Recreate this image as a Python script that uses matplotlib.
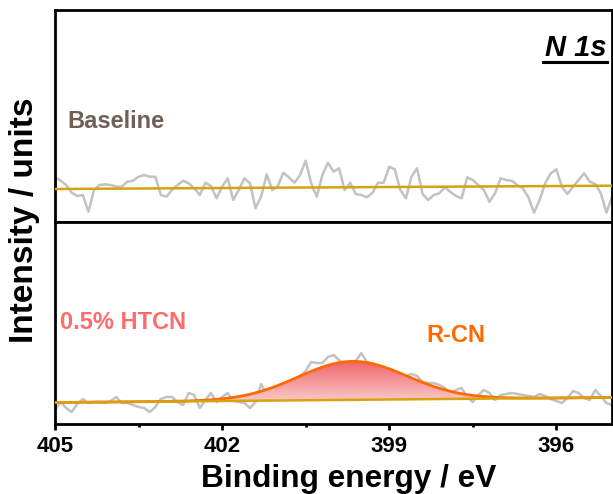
import numpy as np
import matplotlib
matplotlib.use("Agg")
import matplotlib.pyplot as plt
from matplotlib.colors import LinearSegmentedColormap
from matplotlib.ticker import FixedLocator
from matplotlib.lines import Line2D

plt.rcParams['font.family'] = ['Liberation Sans', 'DejaVu Sans']
plt.rcParams['font.weight'] = 'bold'

# ---------------- data ----------------
# binding energy grid, 0.1 eV step from 405 to 395 eV
energy = np.round(np.arange(405.0, 394.95, -0.1), 1)

# Baseline sample, raw N 1s counts (arb. units)
baseline_raw = [
    44.7, 41.3, 37.0, 29.3, 26.0, 27.0, 10.3, 32.0, 37.0, 37.7,
    37.0, 35.3, 35.3, 40.3, 41.3, 45.3, 47.0, 45.3, 45.3, 27.0,
    25.3, 32.0, 37.0, 41.3, 38.7, 33.7, 27.0, 39.3, 36.0, 23.7,
    35.3, 43.7, 22.0, 32.0, 43.7, 38.7, 13.7, 25.3, 47.7, 32.0,
    36.0, 49.3, 44.7, 39.3, 47.0, 61.3, 38.7, 25.3, 47.0, 59.3,
    50.3, 53.7, 32.0, 39.3, 28.0, 27.0, 24.7, 29.3, 39.3, 39.3,
    55.3, 52.7, 32.0, 23.7, 45.3, 53.7, 28.0, 22.0, 27.0, 28.7,
    34.7, 30.0, 26.0, 23.7, 44.7, 42.0, 37.0, 32.0, 20.3, 28.7,
    43.7, 42.0, 41.3, 37.0, 33.7, 24.7, 9.3, 22.0, 38.7, 48.7,
    52.7, 35.3, 28.0, 35.3, 42.0, 48.7, 40.3, 38.0, 28.7, 9.3,
    25.3,
]
baseline_bg = [33.0, 36.3]  # linear background at 405 eV and 395 eV

# 0.5% HTCN sample, raw N 1s counts (arb. units)
htcn_raw = [
    16, 24, 18, 14, 22, 27, 23, 24, 24, 23,
    25, 29, 23, 23, 21, 19, 18, 14, 19, 27,
    29, 29, 24, 21, 33, 31, 18, 26, 33, 24,
    29, 33, 25, 24, 23, 18, 24, 42, 31, 34,
    38, 40, 43, 47, 50, 55, 64, 63, 63, 69,
    71, 66, 61, 63, 65, 73, 64, 60, 58, 56,
    57, 55, 52, 50, 52, 50, 44, 43, 43, 41,
    38, 33, 36, 38, 29, 24, 31, 36, 33, 26,
    31, 32, 33, 32, 31, 30, 29, 32, 30, 27,
    25, 23, 28, 35, 33, 28, 26, 36, 30, 23,
    21,
]
htcn_bg = [23.5, 28.5]  # linear background at 405 eV and 395 eV

# fitted R-CN component
peak_center = 399.66
peak_fwhm = 2.3
peak_height = 38.5

xticks = [405, 402, 399, 396]
minor_ticks = [403.5, 400.5, 397.5]
x_limits = (405, 395)

# ---------------- colours ----------------
gray = '#c2c2c2'
gold = '#d9a10e'
orange = '#ff6a00'
fill_top = '#ee6468'
fill_bottom = '#fbcaca'

W, H = 613, 494
fig = plt.figure(figsize=(W / 100, H / 100), dpi=100)
gs = fig.add_gridspec(2, 1, height_ratios=[212, 202], hspace=0,
                      left=55 / W, right=612 / W, bottom=1 - 424 / H, top=1 - 10 / H)
ax1 = fig.add_subplot(gs[0])
ax2 = fig.add_subplot(gs[1], sharex=ax1)


def linear_bg(ends):
    return np.interp(energy, [395.0, 405.0], [ends[1], ends[0]])


# top panel
bg1 = linear_bg(baseline_bg)
ax1.plot(energy, baseline_raw, color=gray, lw=1.8, zorder=2)
ax1.plot(energy, bg1, color=gold, lw=1.8, zorder=3)
ax1.set_ylim(0, 212)

# bottom panel
bg2 = linear_bg(htcn_bg)
sigma = peak_fwhm / (2 * np.sqrt(2 * np.log(2)))
fit = bg2 + peak_height * np.exp(-0.5 * ((energy - peak_center) / sigma) ** 2)

ax2.plot(energy, htcn_raw, color=gray, lw=1.8, zorder=2)
poly = ax2.fill_between(energy, bg2, fit, color='none', lw=0, zorder=2)
cmap = LinearSegmentedColormap.from_list('peakgrad', [fill_bottom, fill_top])
grad = np.linspace(0, 1, 256).reshape(-1, 1)
im = ax2.imshow(grad, cmap=cmap, aspect='auto', origin='lower',
                extent=[405, 395, float(bg2.min()), float(fit.max())], zorder=2.5)
im.set_clip_path(poly.get_paths()[0], transform=ax2.transData)
ax2.plot(energy, fit, color=orange, lw=2.0, zorder=4)
ax2.plot(energy, bg2, color=gold, lw=1.8, zorder=5)
ax2.set_ylim(2, 204)
ax2.set_xlim(*x_limits)

for ax in (ax1, ax2):
    ax.set_yticks([])
    for s in ax.spines.values():
        s.set_linewidth(2.0)
ax1.tick_params(axis='x', which='both', bottom=False, labelbottom=False)

ax2.set_xticks(xticks)
ax2.set_xticklabels([str(t) for t in xticks])
ax2.xaxis.set_minor_locator(FixedLocator(minor_ticks))
ax2.tick_params(axis='x', which='major', direction='out', length=4.5, width=2,
                labelsize=16, pad=4)
ax2.tick_params(axis='x', which='minor', direction='out', length=2.5, width=2)
for lbl in ax2.get_xticklabels():
    lbl.set_fontweight('bold')


# texts
def fx(x):
    return x / W


def fy(y):
    return 1 - y / H


fig.text(fx(25), fy(220), 'Intensity / units', rotation=90, ha='center', va='center',
         fontsize=24, fontweight='bold')
fig.text(fx(349), fy(487), 'Binding energy / eV', ha='center', va='baseline',
         fontsize=22.8, fontweight='bold')
fig.text(fx(607), fy(48), 'N 1s', ha='right', va='center', fontsize=21,
         fontweight='bold', fontstyle='italic')
fig.add_artist(Line2D([fx(543), fx(607)], [fy(62), fy(62)], transform=fig.transFigure,
                      color='black', lw=2.2))
fig.text(fx(67), fy(122), 'Baseline', ha='left', va='center', fontsize=17,
         fontweight='bold', color='#6e5f58')
fig.text(fx(60), fy(322), '0.5% HTCN', ha='left', va='center', fontsize=17,
         fontweight='bold', color='#ff6b6b')
fig.text(fx(456), fy(336), 'R-CN', ha='center', va='center', fontsize=17,
         fontweight='bold', color=orange)

fig.savefig('out.png', dpi=100)
